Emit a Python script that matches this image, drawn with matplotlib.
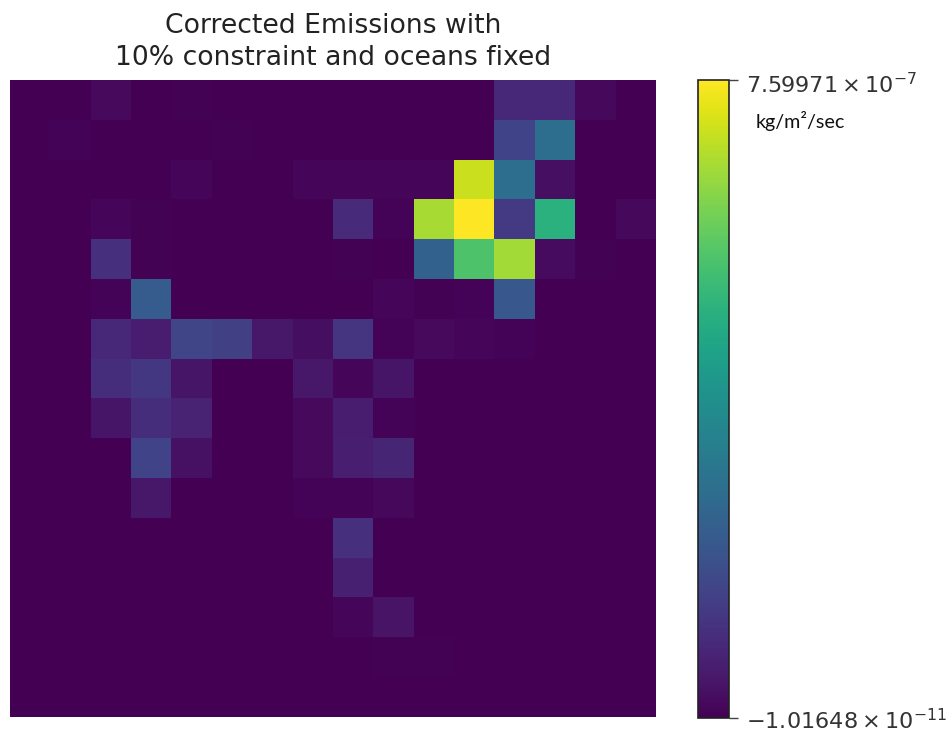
"""
Corrected emissions heatmap with colorbar
"""

import numpy as np
import matplotlib
matplotlib.use("Agg")
import matplotlib.pyplot as plt
from matplotlib.transforms import ScaledTranslation

# Emissions per grid cell, in units of 1e-7 kg/m2/sec
row_00 = [0, 0, .2, 0, .03, 0, 0, 0, 0, 0, 0, 0, .84, .84, .17, 0]
row_01 = [0, .08, 0, 0, 0, .03, 0, 0, 0, 0, 0, 0, 1.52, 2.74, 0, 0]
row_02 = [0, 0, 0, 0, .14, 0, 0, .12, .1, .1, .14, 6.99, 2.74, .3, 0, 0]
row_03 = [0, 0, .1, .03, 0, 0, 0, 0, .91, .06, 6.61, 7.6, 1.29, 4.86, 0, .17]
row_04 = [0, 0, 1.06, .03, 0, 0, 0, 0, .03, 0, 2.36, 5.47, 6.54, .22, .03, 0]
row_05 = [0, .02, .07, 2.2, 0, 0, 0, 0, 0, .13, .03, .06, 2.05, 0, 0, 0]
row_06 = [0, 0, .84, .61, 1.6, 1.44, .5, .28, 1.14, .06, .2, .09, .08, 0, 0, 0]
row_07 = [0, 0, .99, 1.22, .42, 0, 0, .5, .1, .42, 0, 0, 0, 0, 0, 0]
row_08 = [0, 0, .42, .99, .72, 0, 0, .2, .58, .06, 0, 0, 0, 0, 0, 0]
row_09 = [0, 0, 0, 1.52, .34, 0, 0, .2, .65, .8, 0, 0, 0, 0, 0, 0]
row_10 = [0, 0, 0, .5, 0, 0, 0, .06, .06, .15, 0, 0, 0, 0, 0, 0]
row_11 = [0, 0, 0, 0, 0, 0, 0, 0, 1.06, 0, 0, 0, 0, 0, 0, 0]
row_12 = [0, 0, 0, 0, 0, 0, 0, 0, .68, 0, 0, 0, 0, 0, 0, 0]
row_13 = [0, 0, 0, 0, 0, 0, 0, 0, .12, .4, 0, .02, 0, 0, 0, 0]
row_14 = [0, 0, 0, 0, 0, 0, 0, 0, 0, .03, .03, 0, 0, 0, 0, 0]
row_15 = [0] * 16

rows = [row_00, row_01, row_02, row_03, row_04, row_05, row_06, row_07,
        row_08, row_09, row_10, row_11, row_12, row_13, row_14, row_15]

vmin = -1.01648e-4
vmax = 7.59971
tick_labels = [r"$-1.01648 \times 10^{-11}$", r"$7.59971 \times 10^{-7}$"]
title = "Corrected Emissions with\n10% constraint and oceans fixed"
unit_label = "kg/m²/sec"

W, H = 953, 730

fig = plt.figure(figsize=(W / 100, H / 100), dpi=100)

# Axes positions in pixels from the reference
ax = fig.add_axes([10 / W, 1 - 717 / H, 646 / W, 637 / H])
cax = fig.add_axes([698 / W, 1 - 718 / H, 31 / W, 638 / H])

data = np.array(rows)
im = ax.imshow(data, cmap="viridis", vmin=vmin, vmax=vmax, aspect="auto",
               interpolation="nearest")
ax.axis("off")
ax.set_title(title, fontsize=19.2, color="#222222", pad=11, linespacing=1.28)

cbar = fig.colorbar(im, cax=cax)
cbar.set_ticks([vmin, vmax])
cbar.set_ticklabels(tick_labels)
cbar.ax.tick_params(labelsize=16.1, length=6.5, width=1.0, pad=6,
                    labelcolor="#333333", color="#444444")
cbar.outline.set_linewidth(1.2)
cbar.outline.set_edgecolor("#222222")

# Labels sit a little below their ticks in the reference
label_shifts = [-1.0, -2.5]
for label, shift in zip(cbar.ax.get_yticklabels(), label_shifts):
    label.set_transform(label.get_transform()
                        + ScaledTranslation(0, shift / 100, fig.dpi_scale_trans))

fig.text(756 / W, 1 - 121 / H, unit_label, family="Lato", fontsize=14.2,
         color="#111111", va="center", ha="left")

fig.savefig("out.png", dpi=100)
